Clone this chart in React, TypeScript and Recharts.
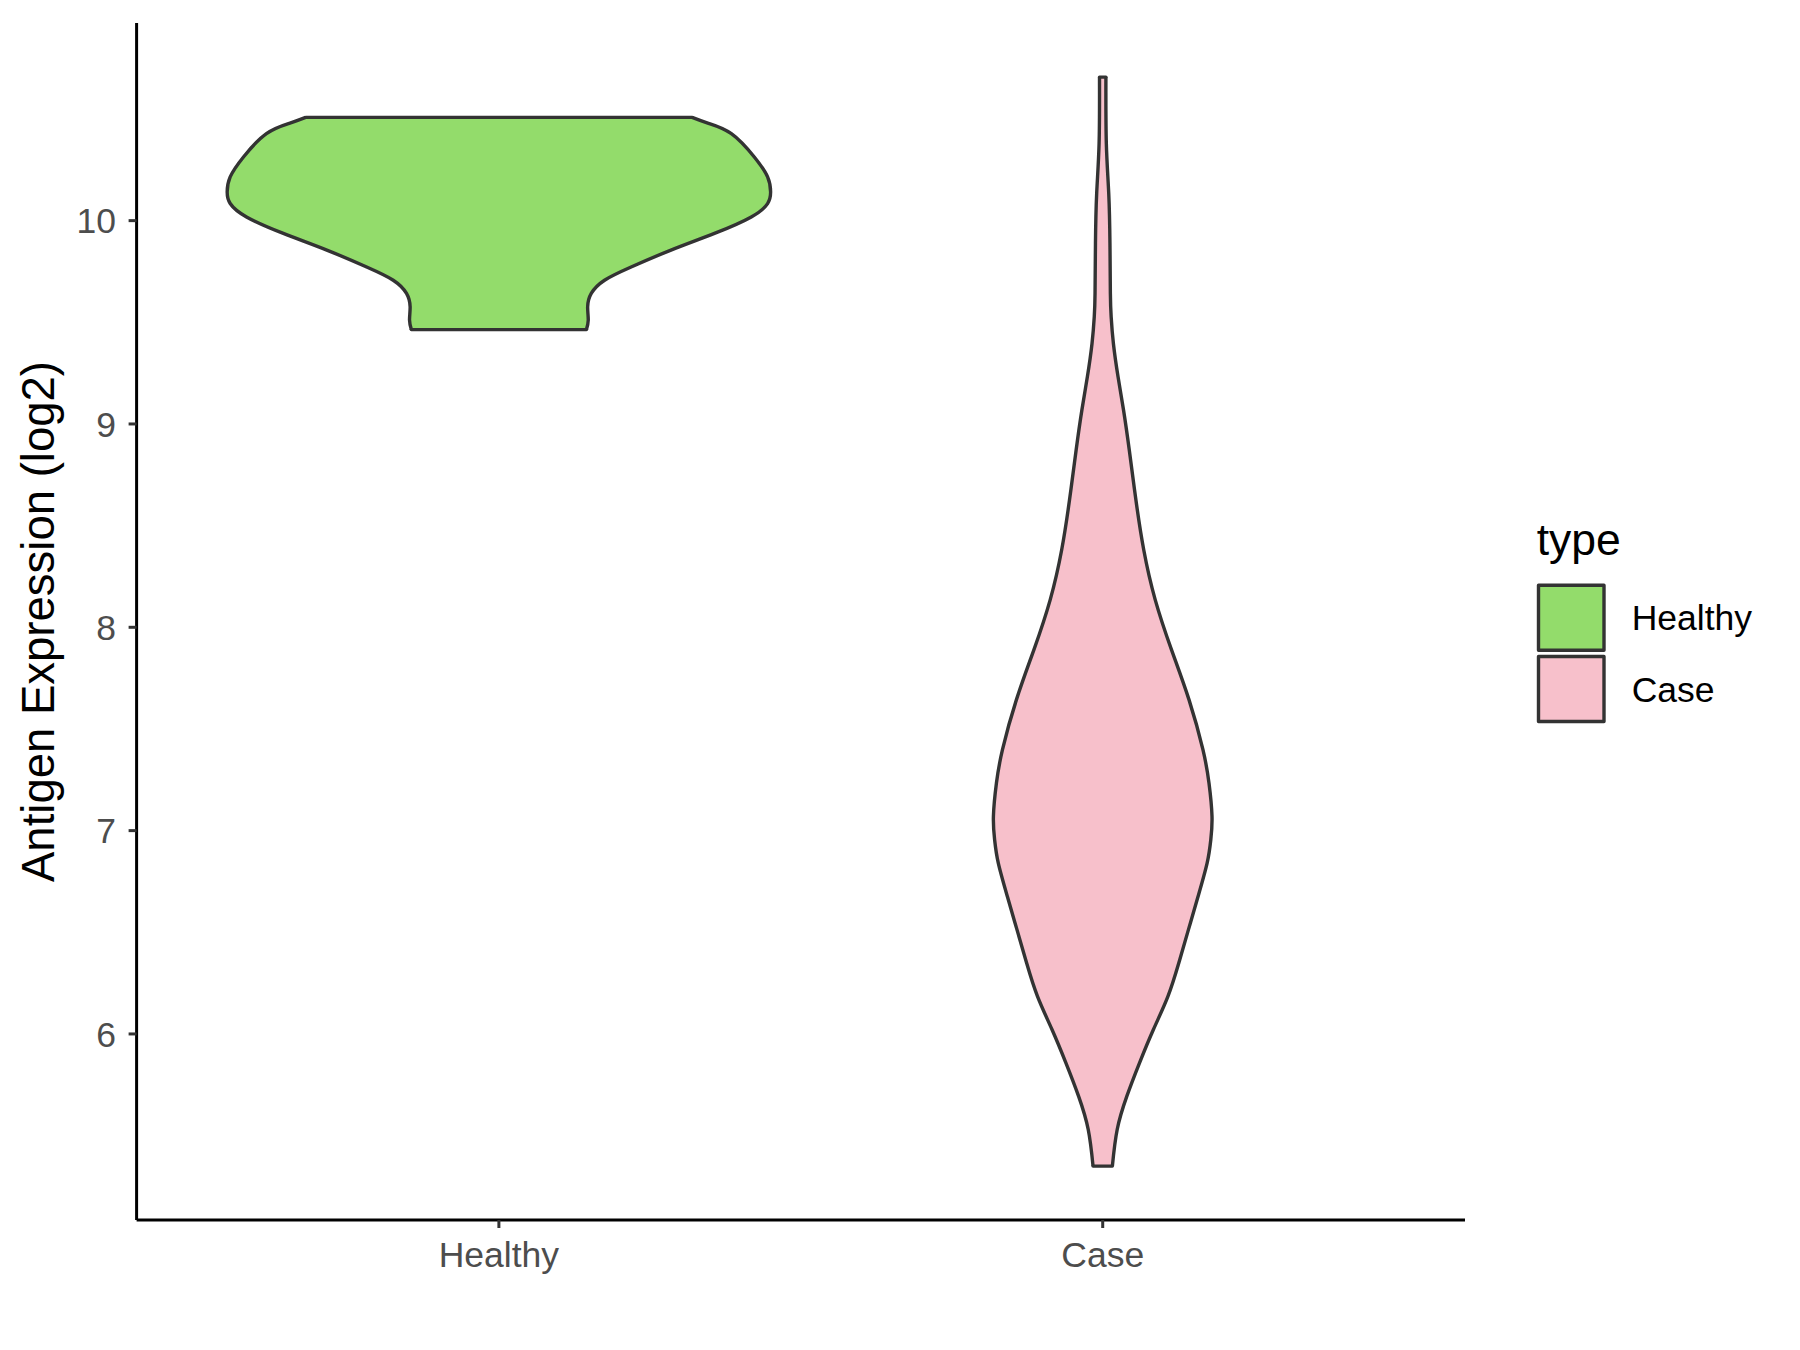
import { Area, ComposedChart, Label, Legend, ReferenceLine, XAxis, YAxis } from "recharts";

const categories = ["Healthy", "Case"];
const positions = [1, 2];
const fills = ["#93DC6B", "#F7C0CB"];

// violin outlines: value (log2) and half width (in category units)
const healthyValues = [10.508, 10.48, 10.428, 10.313, 10.215, 10.141, 10.084, 10.018, 9.937, 9.855, 9.772, 9.707, 9.642, 9.576, 9.511, 9.464];
const healthyHalfWidths = [0.32, 0.346, 0.385, 0.423, 0.445, 0.45, 0.445, 0.418, 0.357, 0.285, 0.219, 0.175, 0.153, 0.147, 0.148, 0.145];

const caseValues = [10.706, 10.379, 10.133, 9.887, 9.642, 9.527, 9.396, 9.232, 9.068, 8.872, 8.626, 8.38, 8.135, 7.889, 7.643, 7.398, 7.234, 7.07, 6.955, 6.841, 6.677, 6.513, 6.349, 6.185, 6.022, 5.858, 5.694, 5.53, 5.35];
const caseHalfWidths = [0.0053, 0.006, 0.01, 0.012, 0.0127, 0.014, 0.0177, 0.0254, 0.0345, 0.044, 0.055, 0.068, 0.087, 0.114, 0.143, 0.166, 0.176, 0.181, 0.179, 0.173, 0.158, 0.142, 0.126, 0.108, 0.084, 0.061, 0.04, 0.024, 0.016];

const yTicks = [6, 7, 8, 9, 10];
const yDomain = [5.085, 10.972];
const xDomain = [0.4, 2.6];

const font = "'Liberation Sans', Arial, sans-serif";

const violinRows = (values: number[], halfWidths: number[], pos: number) =>
  values.map((y, i) => ({ y, range: [pos - halfWidths[i], pos + halfWidths[i]] }));

const violins = [
  violinRows(healthyValues, healthyHalfWidths, positions[0]),
  violinRows(caseValues, caseHalfWidths, positions[1]),
];

const renderLegend = () => (
  <svg width={280} height={240} style={{ display: "block", fontFamily: font }}>
    <text x={16.7} y={55} fontSize={44.5} fill="#000">
      type
    </text>
    {categories.map((c, i) => (
      <g key={c}>
        <rect
          x={18.5}
          y={85.3 + i * 71.2}
          width={65.5}
          height={65}
          fill={fills[i]}
          stroke="#333333"
          strokeWidth={3.4}
          strokeLinejoin="round"
        />
        <text x={111.7} y={130.4 + i * 71.2} fontSize={35.5} fill="#000">
          {c}
        </text>
      </g>
    ))}
  </svg>
);

const YTitle = (props: any) => {
  const vb = props.viewBox;
  const cx = vb.x + 44;
  const cy = vb.y + vb.height / 2;
  return (
    <text
      x={cx}
      y={cy}
      transform={`rotate(-90, ${cx}, ${cy})`}
      textAnchor="middle"
      fontSize={45.5}
      fill="#000"
      fontFamily={font}
    >
      Antigen Expression (log2)
    </text>
  );
};

export default function App() {
  return (
    <div style={{ position: "absolute", left: 0, top: 0, background: "#fff" }}>
      <ComposedChart
        width={1800}
        height={1350}
        layout="vertical"
        margin={{ top: 23, right: 335, bottom: 0, left: 10 }}
        style={{ fontFamily: font }}
      >
        <XAxis
          type="number"
          domain={xDomain}
          allowDataOverflow
          ticks={positions}
          interval={0}
          tickFormatter={(v: number) => categories[v - 1]}
          height={130}
          tickSize={8}
          tickMargin={14}
          axisLine={{ stroke: "#000", strokeWidth: 3 }}
          tickLine={{ stroke: "#333333", strokeWidth: 3 }}
          tick={{ fill: "#4D4D4D", fontSize: 35.5, fontFamily: font }}
        />
        <YAxis
          type="number"
          dataKey="y"
          domain={yDomain}
          reversed
          allowDataOverflow
          ticks={yTicks}
          interval={0}
          width={126.6}
          tickSize={8}
          tickMargin={12.6}
          axisLine={{ stroke: "#000", strokeWidth: 3 }}
          tickLine={{ stroke: "#333333", strokeWidth: 3 }}
          tick={{ fill: "#4D4D4D", fontSize: 35.5, fontFamily: font }}
        >
          <Label content={YTitle} />
        </YAxis>
        {violins.map((rows, i) => (
          <Area
            key={categories[i]}
            name={categories[i]}
            data={rows}
            dataKey="range"
            type="natural"
            fill={fills[i]}
            fillOpacity={1}
            stroke="#333333"
            strokeWidth={3.4}
            strokeLinejoin="round"
            dot={false}
            activeDot={false}
            isAnimationActive={false}
          />
        ))}
        {violins.map((rows) =>
          [rows[0], rows[rows.length - 1]].map((r) => (
            <ReferenceLine
              key={`${r.y}`}
              segment={[
                { x: r.range[0], y: r.y },
                { x: r.range[1], y: r.y },
              ]}
              stroke="#333333"
              strokeWidth={3.4}
              strokeLinecap="round"
            />
          ))
        )}
        <Legend
          content={renderLegend}
          layout="vertical"
          align="center"
          verticalAlign="middle"
          wrapperStyle={{ left: 1520, top: 500, width: 280, height: 240 }}
        />
      </ComposedChart>
    </div>
  );
}
